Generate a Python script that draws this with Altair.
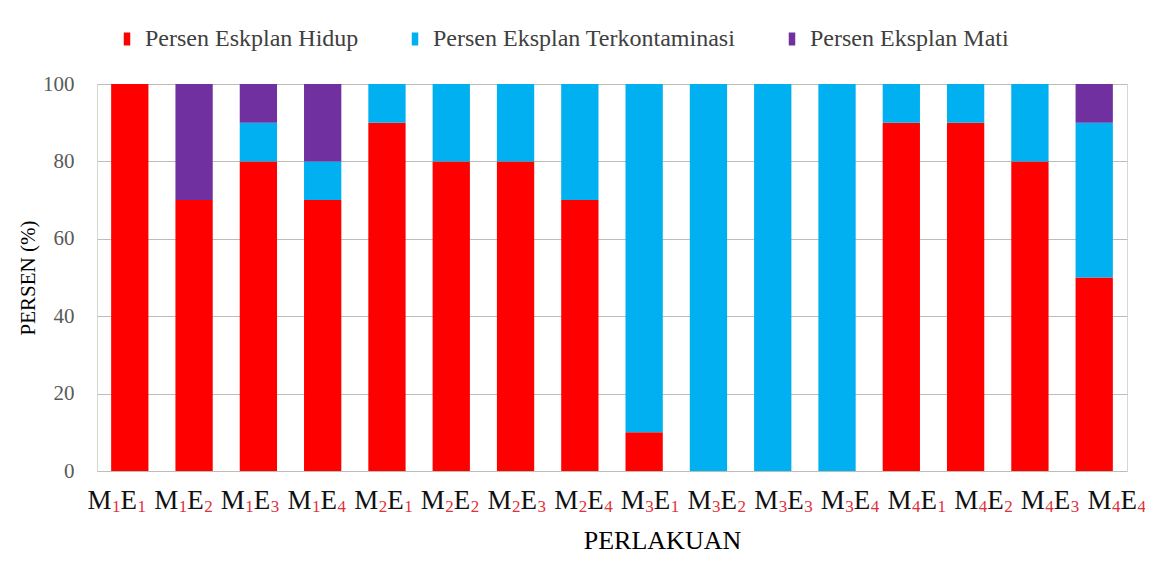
import altair as alt
import pandas as pd

categories = ["M1E1", "M1E2", "M1E3", "M1E4", "M2E1", "M2E2", "M2E3", "M2E4",
              "M3E1", "M3E2", "M3E3", "M3E4", "M4E1", "M4E2", "M4E3", "M4E4"]
m_sub = ["1", "1", "1", "1", "2", "2", "2", "2", "3", "3", "3", "3", "4", "4", "4", "4"]
e_sub = ["1", "2", "3", "4", "1", "2", "3", "4", "1", "2", "3", "4", "1", "2", "3", "4"]

hidup = [100, 70, 80, 70, 90, 80, 80, 70, 10, 0, 0, 0, 90, 90, 80, 50]
terkontaminasi = [0, 0, 10, 10, 10, 20, 20, 30, 90, 100, 100, 100, 10, 10, 20, 40]
mati = [0, 30, 10, 20, 0, 0, 0, 0, 0, 0, 0, 0, 0, 0, 0, 10]

series_names = ["Persen Eskplan Hidup", "Persen Eksplan Terkontaminasi", "Persen Eksplan Mati"]
series_colors = ["#ff0000", "#00b0f0", "#7030a0"]

rows = []
for i, c in enumerate(categories):
    for k, (name, vals) in enumerate(zip(series_names, [hidup, terkontaminasi, mati])):
        rows.append({"Perlakuan": c, "Seri": name, "Persen": vals[i], "ord": k})
df = pd.DataFrame(rows)

lab = pd.DataFrame({"Perlakuan": categories, "m": m_sub, "e": e_sub})

FONT = "Liberation Serif"
W, H = 1030, 387

bars = alt.Chart(df).mark_bar().encode(
    x=alt.X("Perlakuan:N", sort=categories,
            scale=alt.Scale(paddingInner=0.42, paddingOuter=0.22),
            axis=alt.Axis(labels=False, ticks=False, domain=False, grid=False,
                          title="PERLAKUAN", titleFont=FONT, titleFontSize=26,
                          titleFontWeight="normal", titleColor="#000000",
                          titleX=565, titleY=77, titleBaseline="alphabetic",
                          titleAlign="center")),
    y=alt.Y("Persen:Q", stack="zero", scale=alt.Scale(domain=[0, 100], nice=False),
            axis=alt.Axis(values=[0, 20, 40, 60, 80, 100], ticks=False, domain=False,
                          grid=True, gridColor="#bdbdb5", gridWidth=1,
                          labelFont=FONT, labelFontSize=21, labelColor="#595959",
                          labelPadding=23,
                          title="PERSEN (%)", titleFont=FONT, titleFontSize=21,
                          titleFontWeight="normal", titleColor="#000000",
                          titlePadding=4)),
    color=alt.Color("Seri:N", sort=series_names,
                    scale=alt.Scale(domain=series_names, range=series_colors),
                    legend=alt.Legend(orient="none", direction="horizontal",
                                      legendX=18, legendY=-57, title=None,
                                      symbolType="M-0.5,-1L0.5,-1L0.5,1L-0.5,1Z",
                                      symbolSize=169, symbolStrokeWidth=0,
                                      labelFont=FONT, labelFontSize=24, labelLimit=0,
                                      labelColor="#404040", labelOffset=6,
                                      columnPadding=44)),
    order=alt.Order("ord:Q", sort="ascending"),
)

xlab = alt.X("Perlakuan:N", sort=categories,
             scale=alt.Scale(type="point", range=[20, 1020], padding=0),
             axis=None)

base = alt.Chart(lab).encode(x=xlab)
t_m = base.mark_text(align="left", baseline="alphabetic", font=FONT, fontSize=27,
                     color="#111111", dx=-29.5).encode(y=alt.value(425), text=alt.value("M"))
t_ms = base.mark_text(align="left", baseline="alphabetic", font=FONT, fontSize=17,
                      color="#e0303a", dx=-5).encode(y=alt.value(428), text="m:N")
t_e = base.mark_text(align="left", baseline="alphabetic", font=FONT, fontSize=27,
                     color="#111111", dx=3.5).encode(y=alt.value(425), text=alt.value("E"))
t_es = base.mark_text(align="left", baseline="alphabetic", font=FONT, fontSize=17,
                      color="#e0303a", dx=20.5).encode(y=alt.value(428), text="e:N")

chart = alt.layer(bars, t_m, t_ms, t_e, t_es).resolve_scale(x="independent").properties(
    width=W, height=H,
    autosize=alt.AutoSizeParams(type="none"),
    padding={"left": 89, "top": 76, "right": 18, "bottom": 82},
    background="white",
).configure_view(stroke="#d5d8cc", strokeWidth=1
).configure_legend(labelFont=FONT, labelLimit=0)

chart.save("out.html", embed_options={"renderer": "svg", "actions": False})
